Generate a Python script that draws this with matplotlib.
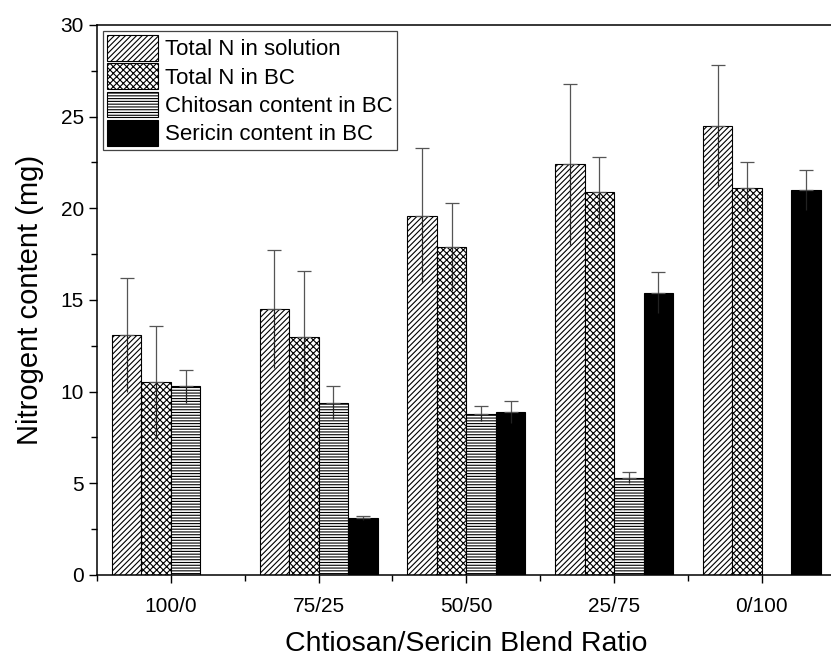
import numpy as np
import matplotlib.pyplot as plt
from matplotlib.ticker import MultipleLocator

plt.rcParams['font.family'] = ['Liberation Sans', 'DejaVu Sans']
plt.rcParams['hatch.linewidth'] = 0.8

# data
ratios = ['100/0', '75/25', '50/50', '25/75', '0/100']
series = ['Total N in solution', 'Total N in BC', 'Chitosan content in BC', 'Sericin content in BC']
total_sol = [13.1, 14.5, 19.6, 22.4, 24.5]
total_sol_err = [3.1, 3.2, 3.7, 4.4, 3.3]
total_bc = [10.5, 13.0, 17.9, 20.9, 21.1]
total_bc_err = [3.1, 3.6, 2.4, 1.9, 1.4]
chitosan = [10.3, 9.4, 8.8, 5.3, 0]
chitosan_err = [0.9, 0.9, 0.4, 0.3, 0]
sericin = [0, 3.1, 8.9, 15.4, 21.0]
sericin_err = [0, 0.1, 0.6, 1.1, 1.1]

values = [total_sol, total_bc, chitosan, sericin]
errors = [total_sol_err, total_bc_err, chitosan_err, sericin_err]
hatches = ['//////', 'xxxxx', '------', None]
faces = ['white', 'white', 'white', 'black']

fig = plt.figure(figsize=(8.31, 6.59), dpi=100)
ax = fig.add_axes([0.1167, 0.1275, 0.889, 0.8346])

x = np.arange(len(ratios))
w = 0.2
for i, (vals, errs) in enumerate(zip(values, errors)):
    pos = x + (i - 1.5) * w
    vals = np.array(vals, dtype=float)
    errs = np.array(errs, dtype=float)
    keep = vals > 0
    ax.bar(pos[keep], vals[keep], w, color=faces[i], edgecolor='black',
           hatch=hatches[i], linewidth=0.8, label=series[i], zorder=2)
    # upper part with cap, lower part without
    ax.errorbar(pos[keep], vals[keep], yerr=[np.zeros(keep.sum()), errs[keep]],
                fmt='none', ecolor='#555555', elinewidth=0.9, capsize=5, capthick=0.9, zorder=3)
    ax.errorbar(pos[keep], vals[keep], yerr=[errs[keep], np.zeros(keep.sum())],
                fmt='none', ecolor='#222222', elinewidth=0.9, capsize=0, zorder=3)

ax.set_xlim(-0.5, 4.5)
ax.set_ylim(0, 30)
ax.set_xticks(x)
ax.set_xticklabels(ratios)
ax.xaxis.set_minor_locator(MultipleLocator(1, offset=0.5))
ax.yaxis.set_major_locator(MultipleLocator(5))
ax.yaxis.set_minor_locator(MultipleLocator(2.5))
ax.tick_params(which='major', direction='out', length=6, width=1, labelsize=15)
ax.tick_params(which='minor', direction='out', length=4, width=1)
ax.tick_params(axis='x', pad=10)
for s in ax.spines.values():
    s.set_linewidth(1.1)

ax.set_xlabel('Chtiosan/Sericin Blend Ratio', fontsize=20.5, labelpad=11)
ax.set_ylabel('Nitrogent content (mg)', fontsize=21, labelpad=12)

leg = ax.legend(loc='upper left', bbox_to_anchor=(0.002, 0.998), fontsize=16,
                fancybox=False, edgecolor='#444444', framealpha=1,
                handlelength=2.3, handleheight=1.4, labelspacing=0.12,
                handletextpad=0.3, borderpad=0.2, borderaxespad=0.2)
leg.get_frame().set_linewidth(0.9)

fig.savefig('out.png', dpi=100)
